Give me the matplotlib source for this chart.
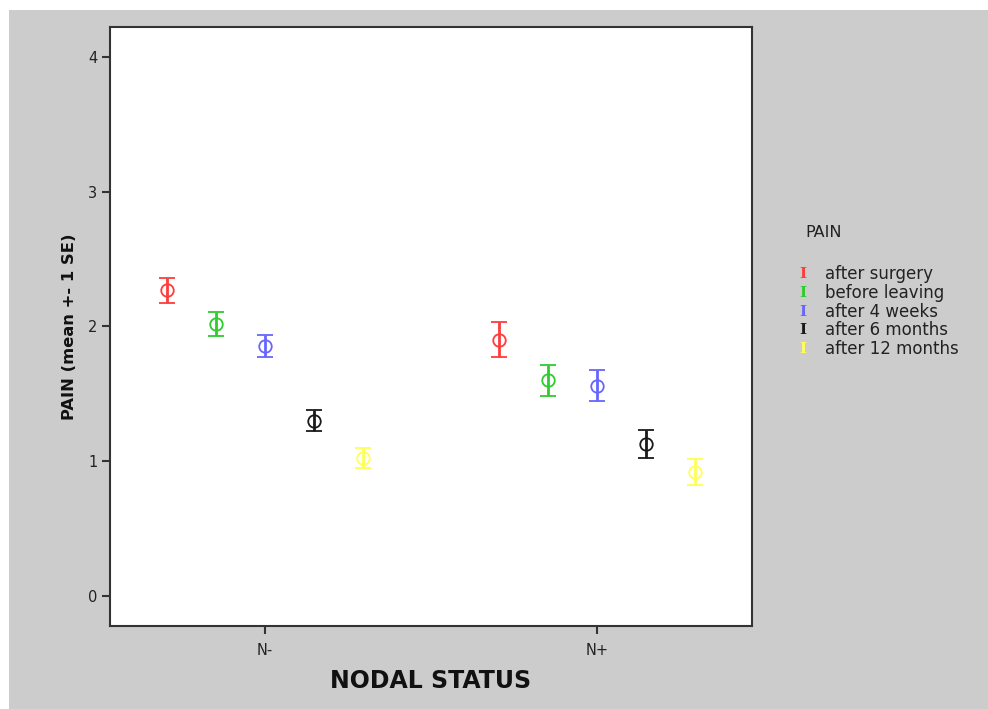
import matplotlib
matplotlib.use("Agg")
import matplotlib.pyplot as plt
from matplotlib.patches import Rectangle
import numpy as np

plt.rcParams['font.family'] = ['DejaVu Sans']

categories = ["N-", "N+"]
series = ["after surgery", "before leaving", "after 4 weeks", "after 6 months", "after 12 months"]
colors = ["#ff3b3b", "#2ecc2e", "#6666ff", "#1a1a1a", "#ffff55"]
means_nminus = [2.27, 2.02, 1.855, 1.30, 1.024]
se_nminus = [0.093, 0.089, 0.082, 0.078, 0.074]
means_nplus = [1.90, 1.60, 1.56, 1.13, 0.92]
se_nplus = [0.13, 0.115, 0.115, 0.104, 0.10]
yticks = [0, 1, 2, 3, 4]

W, H = 988, 709
fig = plt.figure(figsize=(W / 100, H / 100), dpi=100)
fig.patch.set_facecolor("white")
fig.patches.append(Rectangle((9 / W, 0), 1 - 9 / W, 1 - 10 / H, transform=fig.transFigure,
                             facecolor="#cccccc", edgecolor="none", zorder=-10))

ax = fig.add_axes([110 / W, 1 - 626 / H, (752 - 110) / W, (626 - 27) / H])
ax.set_facecolor("white")

offsets = np.linspace(-2, 2, 5) * 0.148
xc = np.arange(len(categories))
for i, (name, col) in enumerate(zip(series, colors)):
    m = [means_nminus[i], means_nplus[i]]
    e = [se_nminus[i], se_nplus[i]]
    ax.errorbar(xc + offsets[i], m, yerr=e, fmt='o', color=col, mfc='none', mec=col,
                ms=9, mew=1.3, elinewidth=2.0, capsize=5.5, capthick=2.0)

ax.set_xlim(-0.467, 1.467)
ax.set_ylim(-0.223, 4.223)
ax.set_xticks(xc)
ax.set_xticklabels(categories, fontsize=10.5)
ax.set_yticks(yticks)
ax.set_yticklabels([str(t) for t in yticks], fontsize=10.5)
for s in ax.spines.values():
    s.set_color("#333333")
    s.set_linewidth(1.5)
ax.tick_params(axis='both', direction='out', length=6, width=1.5, color="#333333", labelcolor="#222222")
ax.tick_params(axis='x', pad=6)
ax.tick_params(axis='y', pad=3)

ax.set_xlabel("NODAL STATUS", fontsize=17, fontweight='bold', labelpad=8, color="#111111")
ax.set_ylabel("PAIN (mean +- 1 SE)", fontsize=11.8, fontweight='bold', labelpad=8, color="#111111")

fig.text(805 / W, 1 - 233 / H, "PAIN", fontsize=11.5, va='center', ha='left', color="#222222")
for i, (name, col) in enumerate(zip(series, colors)):
    y = 1 - (274 + i * 18.8) / H
    fig.text(803 / W, y, "I", fontsize=11, fontweight='bold', family='DejaVu Serif',
             va='center', ha='center', color=col)
    fig.text(825 / W, y, name, fontsize=12, va='center', ha='left', color="#222222")

fig.savefig("out.png", dpi=100, facecolor=fig.get_facecolor())
